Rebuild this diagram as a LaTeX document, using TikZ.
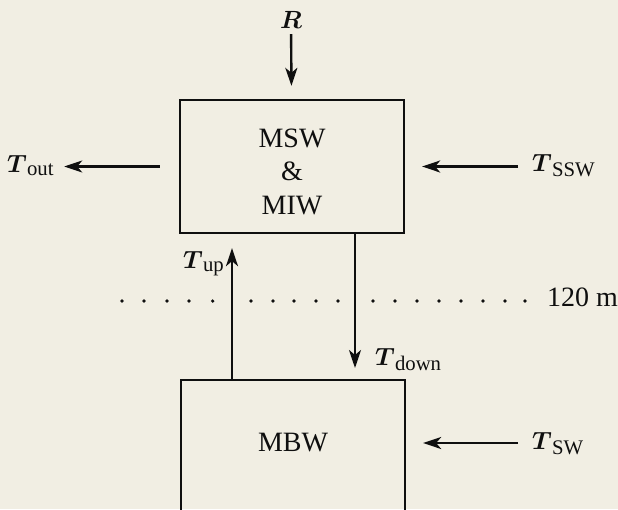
\documentclass[tikz,border=0pt]{standalone}
\usepackage{fontspec}
\setmainfont{Liberation Serif}
\usetikzlibrary{arrows.meta}
\definecolor{paper}{RGB}{241,238,227}
\definecolor{ink}{RGB}{15,15,15}
\newcommand{\bT}{\mbox{\boldmath$T$}}
\newcommand{\bR}{\mbox{\boldmath$R$}}
\begin{document}
\begin{tikzpicture}[x=1pt,y=-1pt,
  boxstyle/.style={draw=ink, line width=2.3pt, minimum width=224pt, inner sep=0pt},
  txt/.style={text=ink, inner sep=0pt, font=\fontsize{28}{33.5}\selectfont},
  mlab/.style={text=ink, inner sep=0pt, font=\fontsize{24.88}{30}\selectfont},
  arr/.style={draw=ink, line width=2.4pt, -{Stealth[length=18pt,width=12pt,inset=5pt]}}]
\useasboundingbox (0,0) rectangle (618,509);
\fill[paper] (0,0) rectangle (618,509);
\clip (0,0) rectangle (618,509);
% boxes
\node[boxstyle, minimum height=133pt] (top) at (292,166.5) {};
\node[txt, align=center] (mswtext) at (292,171.5) {MSW\\\&\\MIW};
\node[boxstyle, minimum height=200pt, anchor=north] (bot) at (293,379) {};
\node[txt] (mbw) at (293,443) {MBW};
% labels
\node[mlab, anchor=base] (R) at (291,28) {$\bR$};
\node[mlab, anchor=base west] (tout) at (7,172) {$\bT_{\mathrm{out}}$};
\node[mlab, anchor=base west] (tssw) at (532,171) {$\bT_{\mathrm{SSW}}$};
\node[mlab, anchor=base west] (tsw) at (532,449) {$\bT_{\mathrm{SW}}$};
\node[mlab, anchor=base west] (tup) at (183,268) {$\bT_{\mathrm{up}}$};
\node[mlab, anchor=base west] (tdown) at (375,365) {$\bT_{\mathrm{down}}$};
\node[txt, anchor=base west] (depth) at (547,306) {120 m};
% helper columns
\coordinate (dn) at (355,0);
\coordinate (upc) at (232,0);
% connectors
\draw[arr, shorten <=6pt, shorten >=13pt] (R) -- (top);
\draw[arr, shorten <=19pt, shorten >=10pt] (top.west) -- (top.west -| tout.east);
\draw[arr, shorten <=14pt, shorten >=17pt] (top.east -| tssw.west) -- (top.east);
\draw[arr, shorten <=14pt, shorten >=17pt] (mbw -| tsw.west) -- (mbw -| bot.east);
\draw[arr, shorten >=11pt] (top.south -| dn) -- (bot.north -| dn);
\draw[arr, shorten >=14pt] (bot.north -| upc) -- (top.south -| upc);
% dotted level line
\foreach \x in {122,144,167,189,212.7,251,273,294,316,338,373,395,417,439,461,483,505,525}
  \fill[ink] (\x,301) circle (1.8pt);
\end{tikzpicture}
\end{document}
